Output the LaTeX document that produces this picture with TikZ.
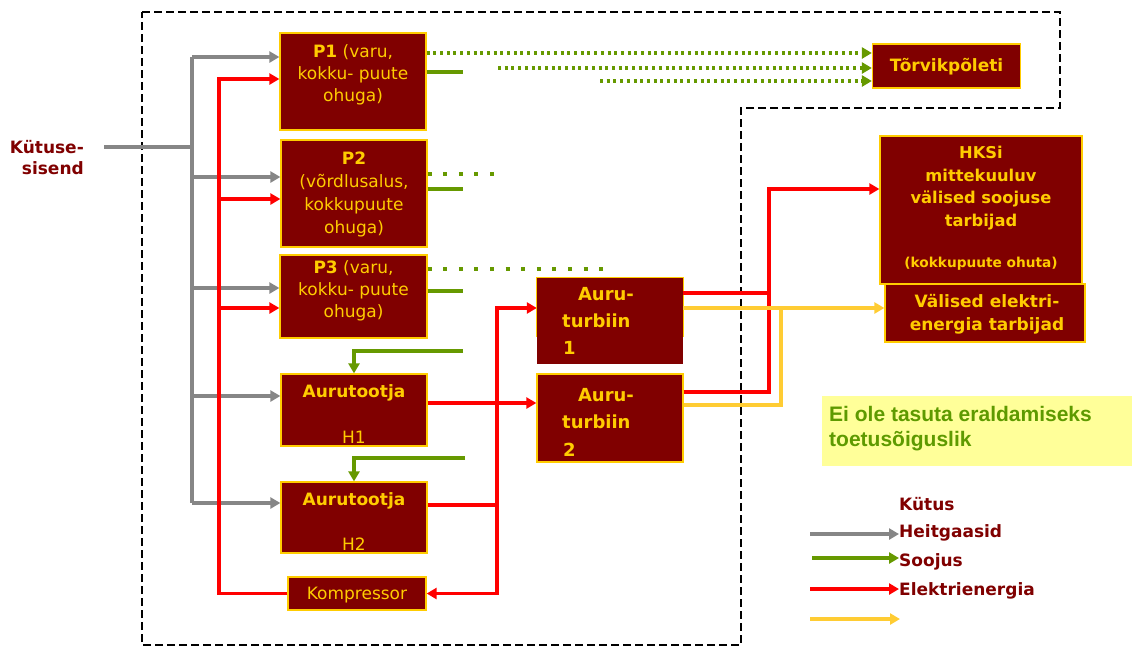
\documentclass[tikz,border=0pt]{standalone}
\usepackage{fontspec}
\setmainfont{DejaVu Sans}
\newfontfamily\notefont{Liberation Sans}
\usetikzlibrary{arrows.meta}

\definecolor{boxred}{HTML}{800000}
\definecolor{boxgold}{HTML}{FFCC00}
\definecolor{flowgray}{HTML}{868686}
\definecolor{flowgreen}{HTML}{669900}
\definecolor{flowred}{HTML}{FF0000}
\definecolor{flowyellow}{HTML}{FFCC33}
\definecolor{notefill}{HTML}{FFFF99}
\definecolor{notegreen}{HTML}{5E9A00}

\tikzset{
  box/.style={draw=boxgold, line width=1.3pt, fill=boxred, inner sep=0pt},
  btext/.style={text=boxgold, align=center, inner sep=0pt,
    font=\fontsize{17}{22}\selectfont},
  bbold/.style={btext, font=\bfseries\fontsize{17}{22}\selectfont},
  arr/.style={-{Triangle[length=10pt,width=11pt]}},
  gasline/.style={flowgray, line width=3.3pt},
  elline/.style={flowred, line width=3.3pt},
  heatline/.style={flowgreen, line width=3.3pt},
  heatdot/.style={flowgreen, line width=3.3pt, dash pattern=on 3pt off 3.7pt},
  heatsparse/.style={flowgreen, line width=3.3pt, dash pattern=on 4pt off 11.6pt},
  powline/.style={flowyellow, line width=3.3pt},
  boundary/.style={black, line width=2pt, dash pattern=on 8pt off 4pt},
  legtext/.style={text=boxred, anchor=west, inner sep=0pt,
    font=\bfseries\fontsize{17}{22}\selectfont},
}

\begin{document}
\begin{tikzpicture}[x=1pt, y=-1pt]
\useasboundingbox (0,0) rectangle (1132,646);

% system boundary
\draw[boundary] (142,12) -- (1060,12) -- (1060,108) -- (741,108) -- (741,645) -- (142,645) -- cycle;

% fuel input label
\node[text=boxred, align=right, anchor=east, inner sep=0pt,
  font=\bfseries\fontsize{17}{21}\selectfont] (fuel) at (84,158) {Kütuse-\\sisend};

% boilers and steam generators
\node[box, minimum width=146pt, minimum height=97pt] (p1) at (353,81.5) {};
\node[btext] (p1t) at (353,75) {\textbf{P1} (varu,\\kokku- puute\\ohuga)};
\node[box, minimum width=146pt, minimum height=107pt] (p2) at (354,193.5) {};
\node[btext, font=\fontsize{17}{23}\selectfont] (p2t) at (354,194.5) {\textbf{P2}\\(võrdlusalus,\\kokkupuute\\ohuga)};
\node[box, minimum width=147pt, minimum height=83pt] (p3) at (353.5,296.5) {};
\node[btext] (p3t) at (353.5,291) {\textbf{P3} (varu,\\kokku- puute\\ohuga)};

\node[box, minimum width=146pt, minimum height=72pt] (h1) at (354,410) {};
\node[bbold] (h1a) at (354,393) {Aurutootja};
\node[btext] (h1b) at (354,437) {H1};
\node[box, minimum width=146pt, minimum height=71pt] (h2) at (354,517.5) {};
\node[bbold] (h2a) at (354,501) {Aurutootja};
\node[btext] (h2b) at (354,544) {H2};

\node[box, minimum width=138pt, minimum height=33pt] (komp) at (357,593.5) {};
\node[btext] (kompt) at (357,595) {Kompressor};

% steam turbines
\node[fill=boxred, inner sep=0pt, minimum width=146pt, minimum height=86pt] (t1) at (610,321) {};
\draw[boxgold, line width=1.3pt] (t1.west |- 0,337) |- (t1.north) -| (t1.east |- 0,337);
\node[bbold, font=\bfseries\fontsize{18}{22}\selectfont] (t1a) at (606,294) {Auru-};
\node[bbold, font=\bfseries\fontsize{18}{22}\selectfont, anchor=west] (t1b) at (562,321) {turbiin};
\node[bbold, font=\bfseries\fontsize{18}{22}\selectfont, anchor=west] (t1c) at (563,348) {1};
\node[box, minimum width=146pt, minimum height=88pt] (t2) at (610,418) {};
\node[bbold, font=\bfseries\fontsize{18}{22}\selectfont] (t2a) at (606,395) {Auru-};
\node[bbold, font=\bfseries\fontsize{18}{22}\selectfont, anchor=west] (t2b) at (562,422) {turbiin};
\node[bbold, font=\bfseries\fontsize{18}{22}\selectfont, anchor=west] (t2c) at (563,450) {2};

% consumers
\node[box, minimum width=148pt, minimum height=44pt] (torv) at (946.5,66) {};
\node[bbold] (torvt) at (946.5,67) {Tõrvikpõleti};
\node[box, minimum width=202pt, minimum height=148pt] (hksi) at (981,210) {};
\node[bbold, font=\bfseries\fontsize{16.3}{22.5}\selectfont] (hksit) at (981,188) {HKSi\\mittekuuluv\\välised soojuse\\tarbijad};
\node[bbold, font=\bfseries\fontsize{13.7}{16}\selectfont] (hksis) at (981,264) {(kokkupuute ohuta)};
\node[box, minimum width=200pt, minimum height=58pt] (valis) at (985,313) {};
\node[bbold, font=\bfseries\fontsize{17}{23}\selectfont] (valist) at (987,314.5) {Välised elektri-\\energia tarbijad};

% note
\node[fill=notefill, inner sep=0pt, minimum width=310pt, minimum height=70pt, anchor=north west] (note) at (822,396) {};
\node[text=notegreen, align=left, anchor=west, inner sep=0pt,
  font=\notefont\bfseries\fontsize{21}{25.5}\selectfont] (notet) at (829,428.5) {Ei ole tasuta eraldamiseks\\toetusõiguslik};

% fuel / flue gas distribution
\coordinate (gin) at (104,147);
\coordinate (gtop) at (192,57);
\coordinate (gbot) at (192,503);
\draw[gasline] (gin) -- (gin -| gtop);
\draw[gasline] (gtop) -- (gbot);
\draw[gasline, arr] (gtop) -- (p1.west |- gtop);
\draw[gasline, arr] (gtop |- 0,177) -- (p2.west |- 0,177);
\draw[gasline, arr] (gtop |- 0,288) -- (p3.west |- 0,288);
\draw[gasline, arr] (gtop |- 0,396) -- (h1.west |- 0,396);
\draw[gasline, arr] (gbot) -- (h2.west |- gbot);

% electricity to the boilers from the compressor line
\coordinate (rtop) at (219,79);
\draw[elline, arr] (komp.west) -| (rtop) -- (p1.west |- rtop);
\draw[elline, arr] (rtop |- 0,199) -- (p2.west |- 0,199);
\draw[elline, arr] (rtop |- 0,308) -- (p3.west |- 0,308);

% heat outputs of the boilers
\coordinate (s1) at (463,72);
\coordinate (s2) at (463,189);
\coordinate (s3) at (463,291);
\draw[heatline] (p1.east |- s1) -- (s1);
\draw[heatline] (p2.east |- s2) -- (s2);
\draw[heatline] (p3.east |- s3) -- (s3);
\coordinate (d1) at (498,68);
\coordinate (d2) at (600,81);
\draw[heatdot, arr] (p1.east |- 0,53) -- (torv.west |- 0,53);
\draw[heatdot, arr] (d1) -- (torv.west |- d1);
\draw[heatdot, arr] (d2) -- (torv.west |- d2);
\coordinate (e2) at (503,174);
\coordinate (e3) at (604,269);
\draw[heatsparse] (p2.east |- e2) -- (e2);
\draw[heatsparse] (p3.east |- e3) -- (e3);

% heat to the steam generators
\coordinate (g1) at (463,351);
\coordinate (g2) at (465,458);
\draw[heatline, arr] (g1) -| (h1.north);
\draw[heatline, arr] (g2) -| (h2.north);

% steam generator electricity to the turbines and compressor
\coordinate (rfeed) at (497,308);
\draw[elline, arr] (h2.east |- 0,505) -| (rfeed) -- (t1.west |- rfeed);
\draw[elline, arr] (rfeed |- 0,505) |- (komp.east);
\draw[elline, arr] (h1.east |- 0,403) -- (t2.west |- 0,403);

% turbine outputs
\coordinate (rj) at (769,293);
\coordinate (rup) at (769,189);
\draw[elline] (t1.east |- rj) -- (rj);
\draw[elline, arr] (t2.east |- 0,392) -| (rup) -- (hksi.west |- rup);
\coordinate (yj) at (781,308);
\draw[powline, arr] (t1.east |- yj) -- (valis.west |- yj);
\draw[powline] (t2.east |- 0,405) -| (yj);

% legend
\node[legtext] (lk) at (899,504) {Kütus};
\node[legtext] (lh) at (899,533) {Heitgaasid};
\node[legtext] (ls) at (899,562) {Soojus};
\node[legtext] (le) at (899,591) {Elektrienergia};
\coordinate (la) at (810,534);
\coordinate (lb) at (812,558);
\coordinate (lc) at (810,589);
\coordinate (ld) at (810,619);
\coordinate (ldd) at (900,619);
\draw[gasline, arr] (la) -- (lh.west |- la);
\draw[heatline, arr] (lb) -- (ls.west |- lb);
\draw[elline, arr] (lc) -- (le.west |- lc);
\draw[powline, arr] (ld) -- (ldd);
\end{tikzpicture}
\end{document}
